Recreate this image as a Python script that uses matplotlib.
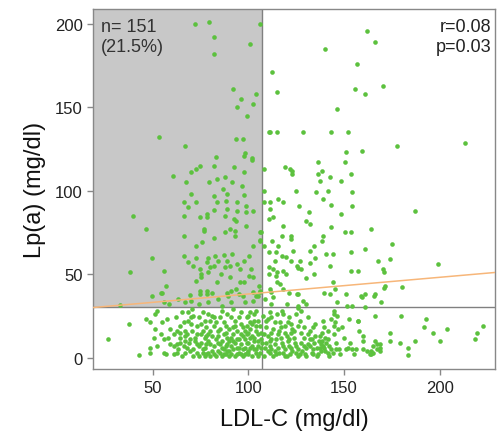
import numpy as np
import matplotlib.pyplot as plt

# (LDL-C, Lp(a)) pairs, grouped by Lp(a) band
pts_high = [
    (72, 200), (79.5, 201), (81.7, 192), (82, 182), (106, 200), (101, 188),
    (92, 161), (96, 155), (104, 158), (94, 150), (102.5, 152), (99, 145),
    (53, 132), (67, 127), (93.5, 131), (97, 131), (110.6, 135), (83, 120),
    (98, 122.5), (97.5, 121), (102, 119.5), (162, 196), (166, 189), (140, 185),
    (157, 176), (112.5, 171), (115, 159), (155.5, 161), (161, 158), (170.5, 163),
    (146.5, 149), (111.5, 135), (115, 135), (128.4, 135), (143.4, 135),
    (152.3, 135), (177.6, 127), (213.5, 128.5), (151, 123), (159.5, 124),
    (108, 113), (119, 114), (121.5, 113), (123, 112), (123, 110), (136.6, 117),
    (150.5, 117), (138.5, 112), (136.6, 110), (153.5, 110), (142.4, 108),
    (137.3, 106), (148.5, 106), (60.3, 109), (70, 111), (72.3, 113),
    (74.8, 115), (81.7, 115), (92.4, 114), (97.6, 111), (102, 118.5),
    (67.4, 105), (79.5, 105), (83.5, 107), (87.5, 108), (91.3, 105), (96.5, 103),
    (86.6, 101),
]

pts_mid = [
    (108, 100), (124.6, 100), (135.5, 99), (141.6, 100), (154.4, 99), (108, 93),
    (111.5, 93), (118.3, 93), (115.4, 95), (139.2, 95), (111.5, 89), (126.5, 91),
    (143.4, 91.4), (154.4, 91), (131.6, 87), (148.5, 86), (187, 88), (110.6, 83),
    (112.7, 84), (130.3, 82), (132.3, 80), (118.3, 79), (143.4, 78), (164.3, 77),
    (150.5, 75), (153.5, 75), (106, 75), (122.5, 73), (122.5, 71), (117.5, 72.8),
    (139.2, 73), (138.5, 70), (112.5, 70), (106, 70), (108, 66.8), (115.4, 67),
    (134.5, 67), (175, 68), (123.4, 64), (132.3, 64), (161, 65), (110.6, 63),
    (114.5, 63), (140.4, 62), (144.3, 62), (153.5, 63), (117.5, 61), (119.7, 60),
    (135, 59.4), (114, 57.8), (122.5, 57.8), (126.7, 57.8), (132.3, 56.6),
    (142.4, 55), (168, 57.8), (174.2, 59), (199, 56), (110.6, 54), (112.7, 53),
    (125.3, 55), (126, 53.8), (127.4, 53), (118.3, 52), (153.5, 52), (157.3, 52),
    (170.2, 53), (171, 51), (110.6, 50), (115, 51), (114.5, 49), (119.7, 50),
    (134.3, 49.8), (130.3, 47.4), (114.8, 45.4), (116.6, 44), (144.3, 45),
    (111.3, 41), (118.3, 41), (171.5, 43), (171, 41.4), (180.3, 42),
    (121.4, 38.6), (125.3, 38), (126, 38), (139.4, 38.6), (142.4, 38),
    (145.5, 41), (151.2, 38), (159, 37), (161, 38), (165.5, 37), (106, 39),
    (113, 36.4), (69.7, 98), (81.7, 97), (88.7, 98), (97.4, 97.5), (66.5, 93),
    (72.3, 93), (83.5, 93), (88.3, 94), (94, 93), (98.8, 91), (68.5, 90),
    (82.2, 88.5), (88.7, 89), (94, 88), (98.8, 87), (102.6, 88), (39.6, 85),
    (66.5, 85), (74.8, 84), (78.4, 86), (78.4, 84), (87.8, 85), (92.2, 83),
    (93.4, 82), (98.8, 79), (46.5, 77), (76.5, 77), (76.5, 76), (87.5, 75.4),
    (90.4, 77), (92.7, 75.8), (93, 72.6), (106.3, 75), (66.5, 73), (82.2, 71.4),
    (106, 70.5), (72.5, 67), (75.6, 69), (102.6, 67), (49.7, 59.4), (66.5, 61),
    (72.3, 59.4), (68.5, 57), (78.8, 59.4), (82.6, 61), (87, 61.4), (91.3, 61.8),
    (78.3, 57.4), (84.3, 57.8), (88.7, 57.8), (97.4, 57.8), (100.5, 61),
    (71.2, 55), (74.8, 53), (79.6, 54), (81.7, 55), (87.5, 54), (90.4, 55),
    (94, 56), (95.6, 53), (101.4, 53), (38.2, 51.4), (55.6, 52), (75.3, 50),
    (75.3, 48), (79, 51), (85.7, 50), (90.4, 48), (100.5, 49), (102.6, 48),
    (72.5, 46), (83.5, 45), (95.6, 45), (97.5, 45), (56.6, 43), (105.6, 43),
    (54.4, 38.6), (49.7, 37), (69.5, 37.4), (74.4, 40), (74.8, 38), (78.3, 40),
    (78.3, 38), (80.9, 38.6), (88.7, 38.6), (91, 40), (93.4, 41), (97, 37),
    (102.3, 39), (104, 37), (54.7, 38.6), (55.6, 33), (58.2, 32), (66.9, 33),
    (70, 34), (73.9, 32), (32.6, 31.4), (79, 33), (84.3, 35), (89.5, 37),
    (94.8, 38), (98.3, 33), (102.6, 34), (105, 37), (106, 40), (112, 39),
    (108.5, 35), (112, 32), (120, 32), (126, 31), (128.6, 34), (130.3, 32),
    (159.4, 36), (146.4, 33), (151.6, 31), (154, 31), (161, 30), (169.5, 33),
    (166.2, 38), (86, 31), (91, 33), (63, 35),
]

pts_low = [
    (37.3, 20), (26.4, 11), (42.7, 1.4), (52, 28), (51, 26), (46.5, 23),
    (48.6, 21), (54.7, 21), (57.3, 23), (51.2, 17), (59, 17), (50.3, 12),
    (55.6, 11), (60.8, 14), (62.5, 16), (66, 21), (68.6, 22), (68.6, 27),
    (70.4, 29), (71.2, 25), (73, 19), (48.6, 6), (48.6, 3), (55.6, 3), (59, 8),
    (60.8, 7), (62.5, 8), (64.3, 9), (66, 7), (67.8, 6), (66.9, 3), (69.5, 4),
    (71.2, 5), (73, 3), (62.5, 3), (64.3, 12), (66.9, 13), (69.5, 11), (72, 10),
    (73, 14), (70.4, 16),
    (76, 27), (81, 25), (86, 28), (91, 24), (96, 27), (100, 25), (104, 28),
    (75, 20), (78, 18), (83, 21), (88, 19), (93, 22), (97, 18), (102, 20),
    (105, 22), (75, 14), (77, 12), (80, 16), (84, 13), (88, 15), (91, 12),
    (94, 16), (97, 13), (100, 15), (103, 12), (105, 14), (75, 9), (77, 6),
    (79, 10), (82, 7), (84, 9), (86, 6), (89, 8), (92, 10), (94, 6), (96, 8),
    (99, 9), (101, 6), (103, 10), (105, 7), (76, 3), (78, 2), (81, 4), (83, 1),
    (85, 3), (88, 2), (90, 4), (93, 1), (95, 3), (98, 2), (100, 4), (102, 1),
    (104, 3), (79, 3), (87, 5), (91, 2), (97, 5), (83, 11), (89, 12), (95, 11),
    (99, 19), (85, 17), (80, 22), (101, 27), (92, 29),
    (111, 27), (117.3, 28), (118, 26), (126, 29.5), (127.7, 28), (110.3, 23),
    (113.8, 21), (116.5, 21), (120.7, 21), (126, 19), (122, 20), (112, 15),
    (115.5, 14), (119, 15), (122.5, 15), (127.7, 15), (131, 14), (133, 11),
    (137.3, 13), (106.8, 11), (111, 10), (114.5, 11), (117.3, 9), (120.7, 10),
    (124.3, 9), (127.7, 9), (131, 8), (134.5, 9), (138, 8), (108.5, 6), (112, 5),
    (115.5, 6), (119, 5), (122.5, 6), (126, 5), (130.3, 6), (133.7, 5),
    (137.3, 6), (111, 3), (114.5, 2), (118, 3), (121.5, 2), (125, 3), (129.5, 2),
    (133, 3), (136.5, 2), (140, 4), (106.8, 15), (106.8, 6),
    (144.6, 28), (144.6, 26), (146.4, 25), (152.5, 23), (157.3, 21.6),
    (166.4, 25), (145.4, 21), (144.6, 19), (139.4, 18), (148.9, 18), (147, 17),
    (141.5, 16), (145, 14), (138.7, 15), (141.5, 11), (140.5, 9), (138.7, 10),
    (160, 13), (160, 10), (166.4, 10), (167.3, 8), (174.2, 15), (174.2, 10),
    (139.6, 6), (143, 5), (145.7, 5), (147.5, 5), (151, 5), (154.4, 5), (160, 5),
    (164.3, 4), (163.4, 2), (165, 3), (167.3, 5), (169, 6), (141.5, 3), (144, 3),
    (169, 8), (157.2, 22), (165.4, 7), (168.8, 4), (164, 2), (156.2, 5), (152, 6),
    (180, 25), (193, 23), (192, 18), (196.7, 15), (204, 17), (200, 10), (187, 10),
    (179.3, 8.6), (183.3, 6), (183.3, 1.4), (222.5, 19), (219.4, 15),
    (218.5, 11),
    # extra reads from the densest strip (LDL 60-140, Lp(a) < 30)
    (62, 24), (64, 19), (65, 27), (67, 16), (69, 9), (71, 1), (74, 7), (74, 24),
    (76, 16), (77, 22), (78, 8), (79, 26), (80, 1), (81, 13), (82, 19), (84, 4),
    (85, 24), (86, 10), (87, 14), (88, 7), (89, 26), (90, 17), (90, 1), (92, 5),
    (92, 14), (93, 19), (94, 2), (95, 24), (96, 14), (97, 1), (98, 11), (98, 6),
    (99, 24), (100, 2), (101, 17), (101, 12), (102, 7), (103, 22), (104, 16),
    (104, 5), (105, 1), (105, 10), (106, 19), (106, 3), (107.5, 25), (108, 14),
    (108, 1), (109, 9), (109, 18), (110, 4), (110, 13), (111, 7), (112, 24),
    (113, 1), (113, 17), (114, 8), (115, 26), (116, 3), (116, 16), (117, 12),
    (118, 7), (119, 19), (120, 1), (120, 13), (121, 24), (121, 7), (123, 4),
    (123, 17), (124, 12), (125, 26), (125, 7), (126, 1), (127, 22), (128, 4),
    (129, 12), (129, 18), (130, 1), (131, 24), (132, 7), (132, 16), (134, 2),
    (135, 13), (135, 20), (136, 6), (137, 10), (138, 4), (139, 22), (140, 12),
    (142, 7), (142, 1), (143, 23), (146, 9), (148, 2), (150, 12), (153, 9),
    (155, 2), (158, 16), (162, 4), (63, 5), (65, 1), (68, 14), (70, 20),
    (72, 12), (74, 1), (76, 5), (78, 13), (80, 8), (82, 2), (84, 16), (86, 1),
    (87, 21), (89, 4), (91, 7), (93, 9), (95, 6), (96, 20), (98, 16), (99, 3),
    (100, 9), (102, 13), (103, 26), (104, 19), (58, 12), (57, 2), (54, 14),
    (52, 7), (61, 2), (64, 15), (67, 10), (70, 24), (73, 8), (77, 1), (79, 14),
    (82, 24), (85, 8), (87, 2), (90, 10), (92, 18), (94, 11), (96, 2),
    (99, 14), (101, 21), (103, 5), (107, 9), (109, 22), (112, 11), (114, 4),
    (117, 18), (119, 1), (121, 11), (124, 16), (127, 2), (129, 7), (132, 11),
    (134, 18), (136, 1), (139, 7),
]

fit_intercept = 28.1
fit_slope = 0.1
ldl_cut = 107
lpa_cut = 30

x_lim = (18.6, 229)
y_lim = (-7, 209)
x_ticks = [50, 100, 150, 200]
y_ticks = [0, 50, 100, 150, 200]

pts = np.array(pts_high + pts_mid + pts_low)
ldl, lpa = pts[:, 0], pts[:, 1]

plt.rcParams["font.family"] = ["Liberation Sans", "DejaVu Sans"]

fig = plt.figure(figsize=(4.97, 4.35), dpi=100)
ax = fig.add_axes([0.187, 0.149, 0.809, 0.828])

ax.fill_between([x_lim[0], ldl_cut], lpa_cut, y_lim[1], color="#c8c8c8",
                lw=0, zorder=0)
ax.axvline(ldl_cut, color="#808080", lw=1, zorder=1)
ax.axhline(lpa_cut, color="#808080", lw=1, zorder=1)

ax.scatter(ldl, lpa, s=11, color="#5cc13e", lw=0, zorder=2)

xs = np.array(x_lim)
ax.plot(xs, fit_intercept + fit_slope * xs, color="#f7b679", lw=1.1, zorder=3)

ax.set_xlim(*x_lim)
ax.set_ylim(*y_lim)
ax.set_xticks(x_ticks)
ax.set_yticks(y_ticks)
ax.tick_params(colors="#888888", labelcolor="#222222", labelsize=12,
               length=4, width=1)
for sp in ax.spines.values():
    sp.set_color("#888888")
    sp.set_linewidth(1)

ax.set_xlabel("LDL-C (mg/dl)", fontsize=17, color="#111111", labelpad=10)
ax.set_ylabel("Lp(a) (mg/dl)", fontsize=17, color="#111111", labelpad=6)

ax.text(0.02, 0.975, "n= 151\n(21.5%)", transform=ax.transAxes, fontsize=13,
        va="top", ha="left", color="#333333", linespacing=1.25)
ax.text(0.99, 0.975, "r=0.08\np=0.03", transform=ax.transAxes, fontsize=13,
        va="top", ha="right", color="#222222", linespacing=1.25)

fig.savefig("out.png", dpi=100)
